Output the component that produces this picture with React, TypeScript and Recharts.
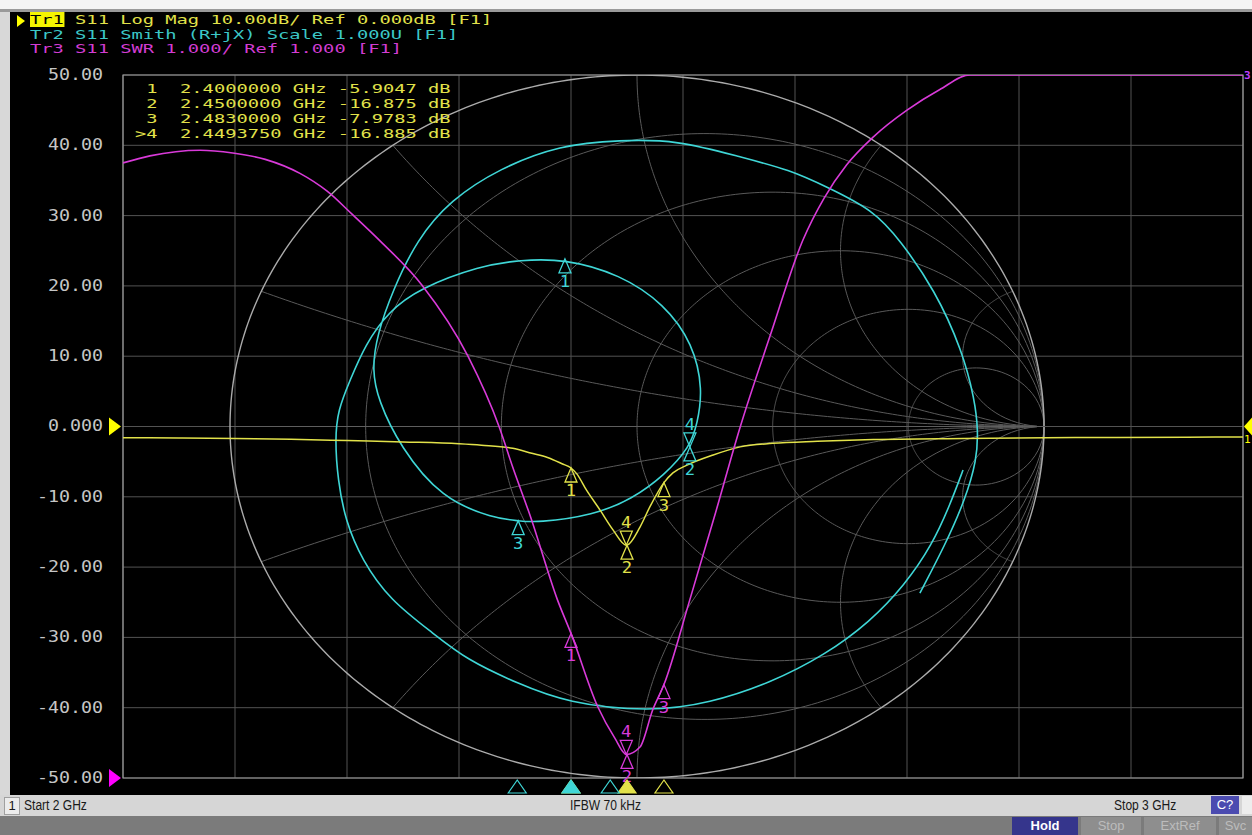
import React from 'react';
import {
  ComposedChart,
  Line,
  XAxis,
  YAxis,
  CartesianGrid,
  ReferenceDot,
  ReferenceArea,
} from 'recharts';

// ---------- axes / ticks ----------
const freqTicks = [2.0, 2.1, 2.2, 2.3, 2.4, 2.5, 2.6, 2.7, 2.8, 2.9, 3.0];
const dbTicks = [50, 40, 30, 20, 10, 0, -10, -20, -30, -40, -50];
const dbTickLabels = ['50.00', '40.00', '30.00', '20.00', '10.00', '0.000', '-10.00', '-20.00', '-30.00', '-40.00', '-50.00'];

// ---------- Tr1: S11 Log Mag (GHz, dB) ----------
const logMagFreq = [2.0, 2.05, 2.1, 2.15, 2.2, 2.25, 2.3, 2.32, 2.348, 2.365, 2.379, 2.392, 2.4, 2.405, 2.414, 2.426, 2.4375, 2.449375, 2.45, 2.4616, 2.4705, 2.483, 2.491, 2.5036, 2.527, 2.551, 2.58, 2.62, 2.67, 2.75, 2.85, 2.95, 3.0];
const logMagDb = [-1.6, -1.62, -1.7, -1.8, -2.0, -2.2, -2.45, -2.65, -3.1, -3.8, -4.4, -5.3, -5.9047, -6.7, -9.1, -11.9, -14.7, -16.885, -16.875, -14.3, -11.4, -7.9783, -6.6, -5.5, -4.05, -2.9, -2.4, -2.1, -1.85, -1.7, -1.58, -1.52, -1.5];

// ---------- Tr3: S11 SWR (GHz, SWR) ----------
const swrFreq = [2.0, 2.024, 2.069, 2.098, 2.127, 2.158, 2.182, 2.2045, 2.2295, 2.267, 2.308, 2.336, 2.348, 2.364, 2.388, 2.4, 2.424, 2.439, 2.449375, 2.4616, 2.473, 2.483, 2.506, 2.529, 2.551, 2.578, 2.607, 2.626, 2.646, 2.67, 2.7, 2.729, 2.756, 2.8, 2.9, 3.0];
const swrValue = [9.75, 9.85, 9.93, 9.89, 9.8, 9.6, 9.35, 9.02, 8.64, 8.01, 7.0, 5.99, 5.42, 4.71, 3.53, 3.057, 2.01, 1.57, 1.335, 1.44, 1.97, 2.329, 3.53, 4.77, 5.99, 7.3, 8.65, 9.25, 9.72, 10.12, 10.5, 10.79, 11, 11, 11, 11];

// ---------- Tr2: S11 Smith (reflection coefficient, sweep order) ----------
const smithRe = [
  0.801, 0.769, 0.725, 0.658, 0.572, 0.462, 0.327, 0.179, 0.032, -0.172, -0.295, -0.418, -0.501, -0.607, -0.676, -0.717, -0.735, -0.742, -0.735, -0.705,
  -0.668, -0.612, -0.533, -0.386, -0.287, -0.177, -0.042, 0.067, 0.138, 0.162, 0.148, 0.13, 0.067, -0.012, -0.106, -0.246, -0.292, -0.352, -0.48, -0.582,
  -0.636, -0.651, -0.639, -0.6, -0.541, -0.459, -0.337, -0.189, -0.042, 0.098, 0.253, 0.376, 0.467, 0.58, 0.646, 0.732, 0.799, 0.83, 0.838, 0.835, 0.806, 0.757, 0.695];
const smithIm = [
  -0.124, -0.223, -0.337, -0.451, -0.556, -0.65, -0.73, -0.787, -0.812, -0.787, -0.73, -0.664, -0.588, -0.494, -0.38, -0.266, -0.152, -0.038, 0.047, 0.132,
  0.232, 0.326, 0.394, 0.457, 0.474, 0.477, 0.433, 0.349, 0.235, 0.104, 0.007, -0.058, -0.139, -0.206, -0.252, -0.274, -0.268, -0.261, -0.206, -0.058,
  0.075, 0.161, 0.26, 0.388, 0.531, 0.644, 0.735, 0.801, 0.815, 0.815, 0.767, 0.73, 0.681, 0.616, 0.531, 0.388, 0.217, 0.075, -0.01, -0.095, -0.209, -0.337, -0.474];

// ---------- markers ----------
const markerIds = ['1', '2', '3', '4'];
const markerFreq = [2.4, 2.45, 2.483, 2.449375];
const markerDb = [-5.9047, -16.875, -7.9783, -16.885];
const markerSwr = [3.057, 1.335, 2.329, 1.335];
const markerRe = [-0.177, 0.13, -0.292, 0.13];
const markerIm = [0.477, -0.058, -0.268, -0.058];
const markerTable = [' 1  2.4000000 GHz -5.9047 dB', ' 2  2.4500000 GHz -16.875 dB', ' 3  2.4830000 GHz -7.9783 dB', '>4  2.4493750 GHz -16.885 dB'];

// stimulus-axis marker flags (GHz)
const yellowFlagFreq = [2.4, 2.45, 2.483];
const yellowFlagFilled = [false, true, false];
const cyanFlagFreq = [2.352, 2.4, 2.435];
const cyanFlagFilled = [false, true, false];

// Smith grid values
const smithR = [0.2, 0.5, 1, 2, 5];
const smithX = [0.2, 0.5, 1, 2, 5, -0.2, -0.5, -1, -2, -5];

const YEL = '#e2e24a';
const CYA = '#3fd6d6';
const MAG = '#d93ad9';
const MONO = '"DejaVu Sans Mono", monospace';
const SANS = '"Liberation Sans", Arial, sans-serif';

// ---------- build tables ----------
const logMagData = logMagFreq.map((f, i) => ({ f, db: logMagDb[i] }));
const swrData = swrFreq.map((f, i) => ({ f, swr: swrValue[i] }));
const smithData = smithRe.map((u, i) => ({ u, v: smithIm[i] }));

const gamma = (r: number, x: number) => {
  const a = r - 1;
  const c = r + 1;
  const den = c * c + x * x;
  return { u: (a * c + x * x) / den, v: (2 * x) / den };
};
const deg = Math.PI / 180;
const rCircle = (r: number) => {
  const pts: { u: number; v: number }[] = [];
  for (let t = -89.95; t <= 89.95; t += 0.5) pts.push(gamma(r, Math.tan(t * deg)));
  pts.push(gamma(r, Math.tan(89.95 * deg)));
  return pts;
};
const xArc = (x: number) => {
  const pts: { u: number; v: number }[] = [];
  for (let t = 0; t <= 89.9; t += 0.5) pts.push(gamma(Math.tan(t * deg), x));
  return pts;
};
const outerCircle = rCircle(0);
const rCircles = smithR.map(rCircle);
const xArcs = smithX.map(xArc);
const realAxis = [{ u: -1, v: 0 }, { u: 1, v: 0 }];

// ---------- shapes ----------
const scaleAt = (x: number, s: number) => `translate(${x} 0) scale(${s} 1) translate(${-x} 0)`;

const DbTick = (props: any) => {
  const { x, y, payload } = props;
  const idx = dbTicks.indexOf(payload.value);
  return (
    <text x={x} y={y} dy={5} textAnchor="end" fill="#c6c6c6" fontFamily={MONO} fontSize={15} transform={scaleAt(x, 1.22)}>
      {dbTickLabels[idx]}
    </text>
  );
};

const markerShape = (color: string, label: string, above: boolean) => (props: any) => {
  const { cx, cy } = props;
  if (cx == null || cy == null) return <g />;
  if (above) {
    return (
      <g>
        <path d={`M${cx},${cy} L${cx - 6},${cy - 14} L${cx + 6},${cy - 14} Z`} fill="none" stroke={color} strokeWidth={1.3} />
        <text x={cx} y={cy - 17} textAnchor="middle" fill={color} fontFamily={MONO} fontSize={15} transform={scaleAt(cx, 1.15)}>{label}</text>
      </g>
    );
  }
  return (
    <g>
      <path d={`M${cx},${cy} L${cx - 6},${cy + 14} L${cx + 6},${cy + 14} Z`} fill="none" stroke={color} strokeWidth={1.3} />
      <text x={cx} y={cy + 28} textAnchor="middle" fill={color} fontFamily={MONO} fontSize={15} transform={scaleAt(cx, 1.15)}>{label}</text>
    </g>
  );
};

const flagShape = (color: string, filled: boolean) => (props: any) => {
  const { cx, cy } = props;
  if (cx == null || cy == null) return <g />;
  return (
    <path d={`M${cx},${cy + 2} L${cx - 9},${cy + 15} L${cx + 9},${cy + 15} Z`} fill={filled ? color : '#000'} stroke={color} strokeWidth={1.2} />
  );
};

const leftArrow = (color: string) => (props: any) => {
  const { cx, cy } = props;
  if (cx == null || cy == null) return <g />;
  return <path d={`M${cx - 14},${cy - 9} L${cx - 2},${cy} L${cx - 14},${cy + 9} Z`} fill={color} />;
};
const rightArrow = (color: string, label: string) => (props: any) => {
  const { cx, cy } = props;
  if (cx == null || cy == null) return <g />;
  return (
    <g>
      <path d={`M${cx + 9},${cy - 9} L${cx + 1},${cy} L${cx + 9},${cy + 9} Z`} fill={color} />
      <text x={cx + 1} y={cy + 16} fill={color} fontFamily={MONO} fontSize={11}>{label}</text>
    </g>
  );
};
const edgeLabel = (color: string, label: string) => (props: any) => {
  const { cx, cy } = props;
  if (cx == null || cy == null) return <g />;
  return <text x={cx + 1} y={cy + 4} fill={color} fontFamily={MONO} fontSize={11} fontWeight="bold">{label}</text>;
};

export default function App() {
  return (
    <div style={{ position: 'relative', width: 1252, height: 835, overflow: 'hidden', background: '#f4f4f4', margin: 0 }}>
      <style>{'body{margin:0;}'}</style>
      {/* window chrome */}
      <div style={{ position: 'absolute', left: 0, top: 9, width: 1252, height: 3, background: '#9a9a9a' }} />
      <div style={{ position: 'absolute', left: 10, top: 12, width: 1242, height: 784, background: '#000' }} />
      <div style={{ position: 'absolute', left: 0, top: 12, width: 10, height: 784, background: '#d8d8d8' }} />

      <div style={{ position: 'absolute', left: 0, top: 0 }}>
        <ComposedChart width={1252} height={835} margin={{ top: 75, right: 9, bottom: 57, left: 0 }}>
          <XAxis xAxisId="f" dataKey="f" type="number" domain={[2, 3]} ticks={freqTicks} hide allowDataOverflow />
          <XAxis xAxisId="u" dataKey="u" type="number" domain={[-1.2629, 1.4889]} hide allowDataOverflow />
          <YAxis yAxisId="db" type="number" domain={[-50, 50]} ticks={dbTicks} width={123} tick={<DbTick />} tickLine={false} axisLine={false} tickSize={0} tickMargin={20} interval={0} allowDataOverflow />
          <YAxis yAxisId="swr" type="number" domain={[1, 11]} hide allowDataOverflow />
          <YAxis yAxisId="v" type="number" domain={[-1, 1]} hide allowDataOverflow />

          <CartesianGrid xAxisId="f" yAxisId="db" stroke="#535353" strokeWidth={1} />

          {/* Smith chart grid */}
          {rCircles.map((d, i) => (
            <Line key={'r' + i} data={d} xAxisId="u" yAxisId="v" dataKey="v" stroke="#5a5a5a" strokeWidth={1} dot={false} isAnimationActive={false} />
          ))}
          {xArcs.map((d, i) => (
            <Line key={'x' + i} data={d} xAxisId="u" yAxisId="v" dataKey="v" stroke="#5a5a5a" strokeWidth={1} dot={false} isAnimationActive={false} />
          ))}
          <Line data={realAxis} xAxisId="u" yAxisId="v" dataKey="v" stroke="#5e5e5e" strokeWidth={1} dot={false} isAnimationActive={false} />
          <Line data={outerCircle} xAxisId="u" yAxisId="v" dataKey="v" stroke="#ababab" strokeWidth={1.4} dot={false} isAnimationActive={false} />

          <ReferenceArea xAxisId="f" yAxisId="db" x1={2} x2={3} y1={-50} y2={50} fill="none" stroke="#9c9c9c" strokeWidth={1.2} ifOverflow="visible" />

          {/* traces */}
          <Line data={smithData} type="basis" xAxisId="u" yAxisId="v" dataKey="v" stroke={CYA} strokeWidth={1.6} dot={false} isAnimationActive={false} />
          <Line data={logMagData} type="monotone" xAxisId="f" yAxisId="db" dataKey="db" stroke={YEL} strokeWidth={1.5} dot={false} isAnimationActive={false} />
          <Line data={swrData} type="monotone" xAxisId="f" yAxisId="swr" dataKey="swr" stroke={MAG} strokeWidth={1.6} dot={false} isAnimationActive={false} />

          {/* trace markers */}
          {markerIds.map((id, i) => (
            <ReferenceDot key={'ym' + id} xAxisId="f" yAxisId="db" x={markerFreq[i]} y={markerDb[i]} ifOverflow="visible" shape={markerShape(YEL, id, id === '4')} />
          ))}
          {markerIds.map((id, i) => (
            <ReferenceDot key={'mm' + id} xAxisId="f" yAxisId="swr" x={markerFreq[i]} y={markerSwr[i]} ifOverflow="visible" shape={markerShape(MAG, id, id === '4')} />
          ))}
          {markerIds.map((id, i) => (
            <ReferenceDot key={'cm' + id} xAxisId="u" yAxisId="v" x={markerRe[i]} y={markerIm[i]} ifOverflow="visible" shape={markerShape(CYA, id, id === '4')} />
          ))}

          {/* stimulus flags under the grid */}
          {yellowFlagFreq.map((f, i) => (
            <ReferenceDot key={'yf' + i} xAxisId="f" yAxisId="db" x={f} y={-50} ifOverflow="visible" shape={flagShape(YEL, yellowFlagFilled[i])} />
          ))}
          {cyanFlagFreq.map((f, i) => (
            <ReferenceDot key={'cf' + i} xAxisId="f" yAxisId="db" x={f} y={-50} ifOverflow="visible" shape={flagShape(CYA, cyanFlagFilled[i])} />
          ))}

          {/* reference position arrows */}
          <ReferenceDot xAxisId="f" yAxisId="db" x={2} y={0} ifOverflow="visible" shape={leftArrow('#ffff00')} />
          <ReferenceDot xAxisId="f" yAxisId="swr" x={2} y={1} ifOverflow="visible" shape={leftArrow('#ff00ff')} />
          <ReferenceDot xAxisId="f" yAxisId="db" x={3} y={0} ifOverflow="visible" shape={rightArrow('#ffff00', '1')} />
          <ReferenceDot xAxisId="f" yAxisId="swr" x={3} y={11} ifOverflow="visible" shape={edgeLabel('#c040ff', '3')} />
        </ComposedChart>
      </div>

      {/* trace legend */}
      <svg style={{ position: 'absolute', left: 0, top: 0 }} width={30} height={40}>
        <path d="M17,15 L25,21 L17,27 Z" fill="#ffff00" />
      </svg>
      <div style={{ position: 'absolute', left: 30, top: 13, fontFamily: MONO, fontSize: 12.5, lineHeight: '14.5px', whiteSpace: 'pre', transform: 'scaleX(1.498)', transformOrigin: '0 0' }}>
        <div style={{ color: YEL, height: 14.5 }}><span style={{ background: '#f5f500', color: '#000' }}>Tr1</span> S11 Log Mag 10.00dB/ Ref 0.000dB [F1]</div>
        <div style={{ color: '#3cc8c8', height: 14.5 }}>Tr2 S11 Smith (R+jX) Scale 1.000U [F1]</div>
        <div style={{ color: '#d23cd2', height: 14.5 }}>Tr3 S11 SWR 1.000/ Ref 1.000 [F1]</div>
      </div>

      {/* marker table */}
      <div style={{ position: 'absolute', left: 135, top: 81, fontFamily: MONO, fontSize: 13, lineHeight: '15px', whiteSpace: 'pre', color: YEL, transform: 'scaleX(1.44)', transformOrigin: '0 0' }}>
        {markerTable.map((row) => (
          <div key={row} style={{ height: 15 }}>{row}</div>
        ))}
      </div>

      {/* status bar */}
      <div style={{ position: 'absolute', left: 0, top: 795, width: 1252, height: 21, background: '#d6d6d6', fontFamily: SANS, fontSize: 14, color: '#1a1a1a' }}>
        <div style={{ position: 'absolute', left: 4, top: 2, width: 14, height: 16, background: '#ececec', border: '1px solid #a0a0a0', textAlign: 'center', lineHeight: '16px', fontSize: 13 }}>1</div>
        <div style={{ position: 'absolute', left: 24, top: 2, lineHeight: '17px', transform: 'scaleX(0.86)', transformOrigin: '0 0' }}>Start 2 GHz</div>
        <div style={{ position: 'absolute', left: 570, top: 2, lineHeight: '17px', transform: 'scaleX(0.86)', transformOrigin: '0 0' }}>IFBW 70 kHz</div>
        <div style={{ position: 'absolute', left: 1114, top: 2, lineHeight: '17px', transform: 'scaleX(0.86)', transformOrigin: '0 0' }}>Stop 3 GHz</div>
        <div style={{ position: 'absolute', left: 1211, top: 1, width: 28, height: 18, background: '#4b4bb0', color: '#fff', textAlign: 'center', lineHeight: '18px', fontSize: 13 }}>C?</div>
        <div style={{ position: 'absolute', left: 1242, top: 1, width: 10, height: 18, background: '#ededed' }} />
      </div>
      <div style={{ position: 'absolute', left: 0, top: 816, width: 1252, height: 19, background: '#7b7b7b', fontFamily: SANS, fontSize: 13 }}>
        <div style={{ position: 'absolute', left: 1012, top: 1, width: 66, height: 18, background: '#35358c', color: '#fff', fontWeight: 'bold', textAlign: 'center', lineHeight: '18px' }}>Hold</div>
        <div style={{ position: 'absolute', left: 1081, top: 1, width: 60, height: 18, background: '#8e8e8e', color: '#bcbcbc', textAlign: 'center', lineHeight: '18px' }}>Stop</div>
        <div style={{ position: 'absolute', left: 1144, top: 1, width: 72, height: 18, background: '#8e8e8e', color: '#bcbcbc', textAlign: 'center', lineHeight: '18px' }}>ExtRef</div>
        <div style={{ position: 'absolute', left: 1219, top: 1, width: 33, height: 18, background: '#8e8e8e', color: '#bcbcbc', textAlign: 'center', lineHeight: '18px' }}>Svc</div>
      </div>
    </div>
  );
}
